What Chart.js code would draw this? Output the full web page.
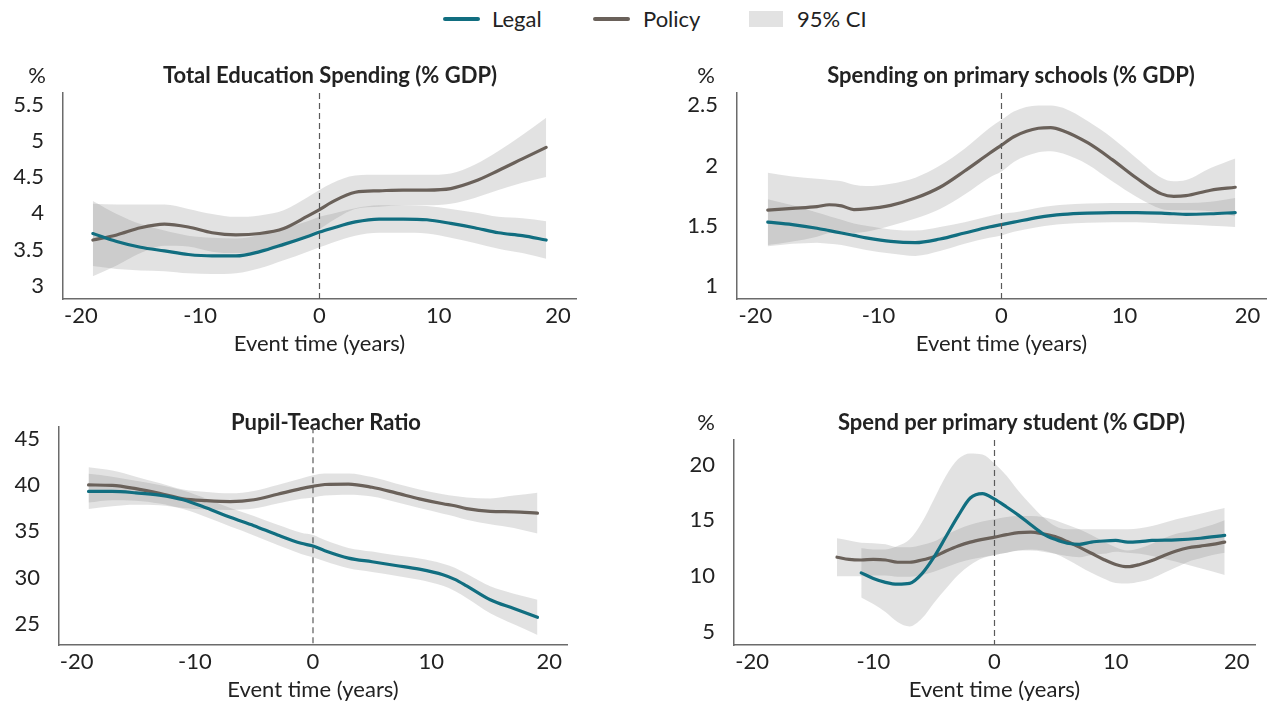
<!DOCTYPE html>
<html><head><meta charset="utf-8">
<script src="https://cdn.jsdelivr.net/npm/chart.js@4.4.1/dist/chart.umd.min.js"></script>
<style>
html,body{margin:0;padding:0;background:#fff;width:1267px;height:705px;overflow:hidden;font-family:Lato,sans-serif}
canvas{position:absolute}
.sw{position:absolute}
.lt{position:absolute;font-family:Lato,sans-serif;font-size:22px;color:#222;line-height:26px;white-space:nowrap}
</style></head><body>
<div id="legend"></div>
<canvas id="c1"></canvas><canvas id="c2"></canvas><canvas id="c3"></canvas><canvas id="c4"></canvas>
<script>
// ---------- DATA ----------
const legendLabels = ['Legal', 'Policy', '95% CI'];
const xTicks = [-20, -10, 0, 10, 20];
const xTitle = 'Event time (years)';

// Panel 1: Total Education Spending (% GDP)
const p1Title = 'Total Education Spending (% GDP)';
const p1YTicks = [3, 3.5, 4, 4.5, 5, 5.5];
const p1X = [-19,-17,-15,-13,-11,-9,-7,-5,-3,-1,0,1,3,5,7,9,11,13,15,17,19];
const p1Legal   = [3.72,3.61,3.53,3.48,3.43,3.41,3.41,3.47,3.57,3.68,3.74,3.79,3.88,3.92,3.92,3.91,3.86,3.80,3.73,3.69,3.63];
const p1LegalLo = [3.27,3.23,3.21,3.20,3.17,3.16,3.17,3.24,3.35,3.47,3.53,3.59,3.69,3.73,3.73,3.72,3.66,3.59,3.51,3.45,3.37];
const p1LegalHi = [4.17,3.99,3.85,3.76,3.69,3.66,3.65,3.70,3.79,3.89,3.95,3.99,4.07,4.11,4.11,4.10,4.06,4.01,3.95,3.93,3.89];
const p1Policy   = [3.63,3.70,3.80,3.85,3.81,3.73,3.70,3.72,3.79,3.96,4.05,4.15,4.29,4.31,4.32,4.32,4.34,4.44,4.59,4.75,4.91];
const p1PolicyLo = [3.13,3.28,3.45,3.55,3.54,3.47,3.45,3.47,3.54,3.70,3.78,3.89,4.06,4.09,4.11,4.11,4.13,4.21,4.32,4.42,4.50];
const p1PolicyHi = [4.13,4.12,4.12,4.12,4.06,3.99,3.95,3.97,4.04,4.22,4.32,4.41,4.52,4.53,4.53,4.53,4.55,4.67,4.86,5.08,5.32];

// Panel 2: Spending on primary schools (% GDP)
const p2Title = 'Spending on primary schools (% GDP)';
const p2YTicks = [1, 1.5, 2, 2.5];
const p2X = [-19,-17,-15,-14,-13,-12,-11,-9,-7,-5,-3,-1,0,1,3,4,5,7,9,11,13,14,15,17,19];
const p2Legal   = [1.53,1.51,1.48,1.46,1.44,1.42,1.40,1.37,1.36,1.39,1.44,1.49,1.51,1.53,1.57,1.585,1.595,1.605,1.61,1.61,1.605,1.60,1.595,1.60,1.61];
const p2LegalLo = [1.33,1.35,1.36,1.35,1.34,1.32,1.30,1.27,1.25,1.29,1.35,1.40,1.42,1.45,1.49,1.505,1.515,1.525,1.53,1.53,1.52,1.515,1.51,1.50,1.49];
const p2LegalHi = [1.72,1.67,1.61,1.58,1.55,1.52,1.50,1.47,1.46,1.49,1.53,1.58,1.60,1.61,1.65,1.665,1.675,1.685,1.69,1.69,1.69,1.69,1.69,1.70,1.73];
const p2Policy   = [1.63,1.645,1.66,1.675,1.665,1.635,1.64,1.67,1.73,1.82,1.955,2.10,2.17,2.24,2.31,2.315,2.29,2.19,2.05,1.895,1.765,1.745,1.75,1.795,1.82];
const p2PolicyLo = [1.34,1.37,1.41,1.44,1.45,1.44,1.45,1.50,1.56,1.64,1.76,1.90,1.95,2.03,2.11,2.12,2.10,2.01,1.87,1.74,1.64,1.63,1.63,1.62,1.58];
const p2PolicyHi = [1.94,1.91,1.89,1.88,1.87,1.84,1.83,1.85,1.90,2.00,2.14,2.31,2.38,2.45,2.50,2.50,2.48,2.37,2.23,2.06,1.90,1.87,1.88,1.98,2.06];

// Panel 3: Pupil-Teacher Ratio
const p3Title = 'Pupil-Teacher Ratio';
const p3YTicks = [25, 30, 35, 40, 45];
const p3X = [-19,-17,-15,-13,-11,-9,-7,-5,-3,-1,0,1,3,5,7,9,11,12,13,15,17,19];
const p3Legal   = [39.3,39.3,39.15,38.9,38.4,37.5,36.5,35.6,34.6,33.7,33.4,32.9,32.1,31.7,31.3,30.9,30.3,29.8,29.1,27.6,26.65,25.7];
const p3LegalLo = [37.4,37.7,37.85,37.8,37.4,36.5,35.5,34.55,33.5,32.55,32.2,31.75,31.0,30.6,30.2,29.75,29.1,28.55,27.8,26.15,24.95,23.8];
const p3LegalHi = [41.2,40.9,40.45,40.0,39.4,38.5,37.5,36.65,35.7,34.85,34.6,34.05,33.2,32.8,32.4,32.05,31.5,31.05,30.4,29.05,28.25,27.6];
const p3Policy   = [40.0,39.95,39.6,39.1,38.5,38.3,38.2,38.4,39.0,39.6,39.85,40.05,40.1,39.75,39.15,38.5,37.97,37.75,37.45,37.15,37.1,36.95];
const p3PolicyLo = [38.1,38.35,38.3,38.0,37.5,37.35,37.3,37.45,38.0,38.5,38.65,38.85,38.95,38.75,38.15,37.5,36.9,36.6,36.25,35.75,35.35,34.75];
const p3PolicyHi = [41.9,41.55,40.9,40.2,39.5,39.25,39.1,39.35,40.0,40.7,41.05,41.25,41.25,40.85,40.15,39.5,39.0,38.8,38.65,38.55,38.85,39.15];

// Panel 4: Spend per primary student (% GDP)
const p4Title = 'Spend per primary student (% GDP)';
const p4YTicks = [5, 10, 15, 20];
const p4LegalX  = [-11,-10,-9,-8,-7,-6,-5,-4,-3,-2,-1,0,1,2,3,4,5,6,7,8,9,10,11,12,13,15,17,19];
const p4Legal   = [10.3,9.8,9.45,9.28,9.35,10.2,11.7,13.55,15.4,17.0,17.4,16.9,16.2,15.45,14.6,13.8,13.3,12.95,12.85,13.05,13.15,13.2,13.05,13.1,13.2,13.25,13.4,13.65];
const p4LegalLo = [8.1,7.5,6.8,5.9,5.5,6.2,7.6,8.9,10.1,11.0,11.6,11.9,12.1,12.3,12.3,12.2,12.0,11.8,11.7,11.9,12.0,12.2,12.1,12.0,11.8,11.3,10.7,10.1];
const p4LegalHi = [12.5,12.4,12.4,12.7,13.3,14.8,16.9,19.0,20.5,21.0,20.9,20.1,19.0,17.6,16.4,15.3,14.5,14.2,14.2,14.2,14.2,14.2,14.2,14.3,14.5,15.1,15.6,16.1];
const p4PolicyX  = [-13,-12,-11,-10,-9,-8,-7,-6,-5,-4,-3,-2,-1,0,1,2,3,4,5,6,7,8,9,10,11,12,13,14,15,16,17,18,19];
const p4Policy   = [11.7,11.5,11.45,11.5,11.45,11.25,11.25,11.45,11.75,12.25,12.7,13.05,13.3,13.5,13.72,13.9,13.95,13.8,13.55,13.1,12.6,12.05,11.5,11.05,10.85,11.05,11.4,11.85,12.25,12.55,12.7,12.85,13.05];
const p4PolicyLo = [10.0,10.0,10.0,10.05,10.05,9.95,9.95,10.1,10.4,10.8,11.2,11.5,11.7,11.9,12.1,12.3,12.4,12.3,12.0,11.5,10.9,10.3,9.8,9.4,9.35,9.5,9.8,10.3,10.8,11.3,11.6,11.9,12.1];
const p4PolicyHi = [13.4,13.2,13.0,12.95,12.85,12.6,12.6,12.8,13.1,13.7,14.2,14.6,14.9,15.1,15.3,15.4,15.4,15.3,15.0,14.6,14.2,13.7,13.1,12.6,12.3,12.5,12.9,13.4,13.8,14.0,14.3,14.6,15.0];

// ---------- STYLE ----------
const TEAL = '#116e80';
const GRAY = '#6a615a';
const BAND = 'rgba(128,128,128,0.23)';
const AXIS = '#6b6b6b';
const TXT = '#222';
const FONT = 'Lato, "Open Sans", sans-serif';
const FS = 22;

// legend
(function(){
  const lg = document.getElementById('legend');
  const items = [
    {type:'line', color:TEAL, sx:443, tx:492},
    {type:'line', color:GRAY, sx:593, tx:643},
    {type:'box',  color:BAND, sx:749, tx:797}
  ];
  items.forEach((it, i) => {
    const s = document.createElement('div');
    s.className = 'sw';
    if (it.type === 'line') {
      s.style.cssText = `left:${it.sx}px;top:17px;width:37px;height:4px;border-radius:2px;background:${it.color}`;
    } else {
      s.style.cssText = `left:${it.sx}px;top:11px;width:34px;height:16px;background:${it.color}`;
    }
    lg.appendChild(s);
    const t = document.createElement('div');
    t.className = 'lt';
    t.style.left = it.tx + 'px';
    t.style.top = '6px';
    t.textContent = legendLabels[i];
    lg.appendChild(t);
  });
})();

const pts = (xs, ys) => xs.map((x, i) => ({x: x, y: ys[i]}));

const deco = {
  id: 'deco',
  afterDatasetsDraw(chart, args, o) {
    const ctx = chart.ctx;
    ctx.save();
    ctx.fillStyle = TXT;
    ctx.textBaseline = 'alphabetic';
    ctx.font = `bold ${FS}px ${FONT}`;
    ctx.textAlign = 'center';
    ctx.fillText(o.title, o.titleX, o.titleY);
    if (o.unit) {
      ctx.font = `${FS}px ${FONT}`;
      ctx.fillText(o.unit, o.unitX, o.titleY);
    }
    const px = chart.scales.x.getPixelForValue(0);
    ctx.setLineDash([6, 4]);
    ctx.strokeStyle = '#5a5a5a';
    ctx.lineWidth = 1.2;
    ctx.beginPath();
    ctx.moveTo(px, chart.chartArea.top);
    ctx.lineTo(px, chart.chartArea.bottom);
    ctx.stroke();
    ctx.restore();
  }
};

function lineDs(xs, ys, color) {
  return {data: pts(xs, ys), borderColor: color, borderWidth: 3.2, pointRadius: 0, fill: false,
          cubicInterpolationMode: 'monotone', borderCapStyle: 'round'};
}
function bandDs(xs, ys, fill) {
  return {data: pts(xs, ys), borderColor: 'rgba(0,0,0,0)', borderWidth: 0, pointRadius: 0,
          fill: fill, backgroundColor: BAND, cubicInterpolationMode: 'monotone'};
}

function panel(id, g, d) {
  const cv = document.getElementById(id);
  cv.width = g.w; cv.height = g.h;
  cv.style.left = g.left + 'px'; cv.style.top = g.top + 'px';
  cv.style.width = g.w + 'px'; cv.style.height = g.h + 'px';
  new Chart(cv, {
    type: 'line',
    data: {datasets: [
      lineDs(d.lx, d.legal, TEAL),
      lineDs(d.px, d.policy, GRAY),
      bandDs(d.lx, d.legalLo, false),
      bandDs(d.lx, d.legalHi, '-1'),
      bandDs(d.px, d.policyLo, false),
      bandDs(d.px, d.policyHi, '-1')
    ]},
    options: {
      responsive: false, animation: false, devicePixelRatio: 1,
      layout: {autoPadding: false, padding: {left: 0, top: g.padTop, right: g.padRight, bottom: 0}},
      plugins: {
        legend: {display: false}, tooltip: {enabled: false},
        deco: {title: d.title, titleX: g.titleX - g.left, titleY: g.titleY - g.top,
               unit: g.unit ? '%' : null, unitX: g.unitX - g.left}
      },
      scales: {
        x: {
          type: 'linear', min: -21.5, max: 21.5,
          grid: {display: false, drawTicks: false},
          border: {display: true, color: AXIS, width: 1.5},
          afterBuildTicks: s => { s.ticks = xTicks.map(v => ({value: v})); },
          afterFit: s => { s.height = g.xh; },
          ticks: {font: {family: FONT, size: FS}, color: TXT, padding: 4, maxRotation: 0, autoSkip: false,
                  callback: v => String(v)},
          title: {display: true, text: xTitle, font: {family: FONT, size: FS}, color: TXT,
                  padding: {top: 0, bottom: 8}}
        },
        y: {
          type: 'linear', min: g.ymin, max: g.ymax,
          grid: {display: false, drawTicks: false},
          border: {display: true, color: AXIS, width: 1.5},
          afterBuildTicks: s => { s.ticks = d.yTicks.map(v => ({value: v})); },
          afterFit: s => { s.width = g.yw; },
          ticks: {font: {family: FONT, size: FS}, color: TXT, padding: 19, autoSkip: false,
                  callback: v => String(v)}
        }
      }
    },
    plugins: [deco]
  });
}

panel('c1',
  {left: 0, top: 50, w: 620, h: 315, padTop: 43, padRight: 44, yw: 63, xh: 66,
   ymin: 2.816, ymax: 5.66, titleX: 330, titleY: 83, unit: true, unitX: 37},
  {title: p1Title, yTicks: p1YTicks, lx: p1X, px: p1X, legal: p1Legal, legalLo: p1LegalLo, legalHi: p1LegalHi,
   policy: p1Policy, policyLo: p1PolicyLo, policyHi: p1PolicyHi});

panel('c2',
  {left: 640, top: 50, w: 627, h: 315, padTop: 43, padRight: 1, yw: 97, xh: 66,
   ymin: 0.892, ymax: 2.603, titleX: 1011, titleY: 83, unit: true, unitX: 706},
  {title: p2Title, yTicks: p2YTicks, lx: p2X, px: p2X, legal: p2Legal, legalLo: p2LegalLo, legalHi: p2LegalHi,
   policy: p2Policy, policyLo: p2PolicyLo, policyHi: p2PolicyHi});

panel('c3',
  {left: 0, top: 395, w: 620, h: 316, padTop: 17, padRight: 53, yw: 59, xh: 66,
   ymin: 22.71, ymax: 46.24, titleX: 326, titleY: 430, unit: false, unitX: 0},
  {title: p3Title, yTicks: p3YTicks, lx: p3X, px: p3X, legal: p3Legal, legalLo: p3LegalLo, legalHi: p3LegalHi,
   policy: p3Policy, policyLo: p3PolicyLo, policyHi: p3PolicyHi});

panel('c4',
  {left: 640, top: 395, w: 627, h: 316, padTop: 45, padRight: 12, yw: 94, xh: 66,
   ymin: 3.835, ymax: 22.2, titleX: 1011.5, titleY: 430, unit: true, unitX: 706},
  {title: p4Title, yTicks: p4YTicks, lx: p4LegalX, px: p4PolicyX, legal: p4Legal, legalLo: p4LegalLo, legalHi: p4LegalHi,
   policy: p4Policy, policyLo: p4PolicyLo, policyHi: p4PolicyHi});
</script>
</body></html>
